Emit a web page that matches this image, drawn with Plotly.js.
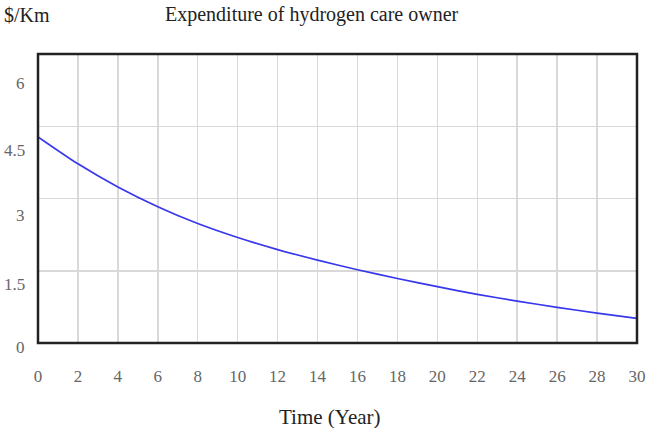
<!DOCTYPE html>
<html>
<head>
<meta charset="utf-8">
<script src="https://cdn.plot.ly/plotly-3.0.1.min.js"></script>
<style>html,body{margin:0;padding:0;background:#fff;}#chart{width:646px;height:428px;}</style>
</head>
<body>
<div id="chart"></div>
<script>
// ---- data ----
const years = [0, 2, 4, 6, 8, 10, 12, 14, 16, 18, 20, 22, 24, 26, 28, 30];
const costPerKm = [4.28, 3.72, 3.24, 2.83, 2.48, 2.19, 1.94, 1.72, 1.52, 1.34, 1.17, 1.01, 0.87, 0.74, 0.62, 0.51];
const xTickVals = [0, 2, 4, 6, 8, 10, 12, 14, 16, 18, 20, 22, 24, 26, 28, 30];
const yTickVals = [0, 1.5, 3, 4.5, 6];
const yTickText = ["0", "1.5", "3", "4.5", "6"];
const chartTitle = "Expenditure of hydrogen care owner";
const yUnit = "$/Km";
const xTitle = "Time (Year)";

// ---- style / layout constants ----
const yLabelShiftPx = [4, 14, 17, 24, 29]; // labels drawn below their gridlines in the original
const serif = "Liberation Serif, Times New Roman, serif";

const trace = {
  x: years, y: costPerKm, type: "scatter", mode: "lines",
  line: {color: "rgb(55,55,235)", width: 1.7, shape: "spline", smoothing: 0.6},
  hoverinfo: "x+y"
};

const annotations = yTickVals.map((v, i) => ({
  xref: "paper", yref: "y", x: 0, y: v, xshift: -11, yshift: -yLabelShiftPx[i],
  xanchor: "right", yanchor: "middle", showarrow: false,
  text: yTickText[i], font: {family: serif, size: 17, color: "#666"}
}));
annotations.push({
  xref: "paper", yref: "paper", x: -36/599, y: 1 + 39/289, xanchor: "left", yanchor: "middle",
  showarrow: false, text: yUnit, font: {family: serif, size: 20, color: "#222"}
});
annotations.push({
  xref: "paper", yref: "paper", x: (163-38)/599, y: 1 + 39/289, xanchor: "left", yanchor: "middle",
  showarrow: false, text: chartTitle, font: {family: serif, size: 20, color: "#222"}
});
annotations.push({
  xref: "paper", yref: "paper", x: (330-38)/599, y: -(417-343)/289, xanchor: "center", yanchor: "middle",
  showarrow: false, text: xTitle, font: {family: serif, size: 21, color: "#222"}
});

const layout = {
  width: 646, height: 428,
  margin: {l: 38, r: 9, t: 54, b: 85, pad: 0},
  paper_bgcolor: "#fff", plot_bgcolor: "#fff",
  showlegend: false,
  xaxis: {
    range: [0, 30], tickvals: xTickVals, ticktext: xTickVals.map(String),
    showgrid: true, gridcolor: "#d9d9d9", gridwidth: 1.5,
    zeroline: false, showline: false, ticks: "", ticklabelstandoff: 21,
    tickfont: {family: serif, size: 17, color: "#666"}, fixedrange: true
  },
  yaxis: {
    range: [0, 6], tickvals: yTickVals, showticklabels: false,
    showgrid: true, gridcolor: "#d9d9d9", gridwidth: 1.5,
    zeroline: false, showline: false, ticks: "", fixedrange: true
  },
  shapes: [{type: "rect", xref: "paper", yref: "paper", x0: 0, x1: 1, y0: 0, y1: 1,
            line: {color: "#222", width: 2.5}, fillcolor: "rgba(0,0,0,0)", layer: "above"}],
  annotations: annotations
};

Plotly.newPlot("chart", [trace], layout, {displayModeBar: false, staticPlot: true});
</script>
</body>
</html>
